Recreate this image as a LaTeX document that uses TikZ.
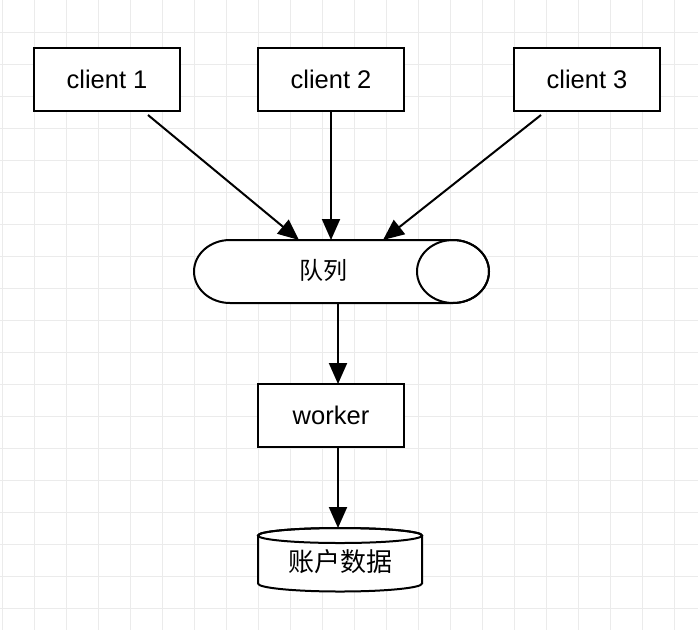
\documentclass[tikz,border=0pt]{standalone}
\usepackage{fontspec}
\setmainfont{Liberation Sans}
\newfontfamily\cjk{Noto Sans CJK SC}
\usetikzlibrary{arrows.meta}
\begin{document}
\begin{tikzpicture}[x=1pt,y=-1pt,
  gridline/.style={draw=black!8,line width=1pt},
  boxnode/.style={draw=black,line width=2pt,fill=white,minimum width=146pt,minimum height=63pt,inner sep=0pt,font=\fontsize{25.5}{28}\selectfont},
  conn/.style={line width=2pt,-{Triangle[length=21pt,width=18pt]}},
  shp/.style={draw=black,line width=2pt,fill=white}]
\useasboundingbox[fill=white] (0,0) rectangle (698,630);
% grid
\foreach \i in {0,...,21} {\draw[gridline] (2.5+32*\i,0) -- (2.5+32*\i,630);}
\foreach \j in {1,...,19} {\draw[gridline] (0,32*\j) -- (698,32*\j);}
% clients
\node[boxnode] (c1) at (107,79.5) {client 1};
\node[boxnode] (c2) at (331,79.5) {client 2};
\node[boxnode] (c3) at (587,79.5) {client 3};
% queue
\path[shp] (230,240) -- (453,240) arc[start angle=-90,end angle=90,x radius=36,y radius=31.5] -- (230,303) arc[start angle=90,end angle=270,x radius=36,y radius=31.5] -- cycle;
\draw[line width=2pt] (453,271.5) ellipse[x radius=36,y radius=31.5];
\node[font=\cjk\fontsize{24}{28}\selectfont] (q) at (323,270) {队列};
\coordinate (qa) at (299,240);
\coordinate (qb) at (331,240);
\coordinate (qc) at (383,240);
\coordinate (qo) at (338,303);
% worker
\node[boxnode] (w) at (331,415.5) {worker};
\coordinate (wi) at (338,384);
\coordinate (wo) at (338,447);
% database
\path[shp] (258,535.5) -- (258,583.5) arc[start angle=180,end angle=0,x radius=82,y radius=8] -- (422,535.5) arc[start angle=0,end angle=-180,x radius=82,y radius=7.5] -- cycle;
\draw[line width=2pt] (340,535.5) ellipse[x radius=82,y radius=7.5];
\node[font=\cjk\fontsize{26}{28}\selectfont] (db) at (340,562) {账户数据};
\coordinate (dbi) at (338,528);
% connectors
\draw[conn] (c1.south)++(41,3) coordinate (c1o) -- (qa);
\draw[conn] (c2.south) -- (qb);
\draw[conn] (c3.south)++(-46,3) coordinate (c3o) -- (qc);
\draw[conn] (qo) -- (wi);
\draw[conn] (wo) -- (dbi);
\end{tikzpicture}
\end{document}
